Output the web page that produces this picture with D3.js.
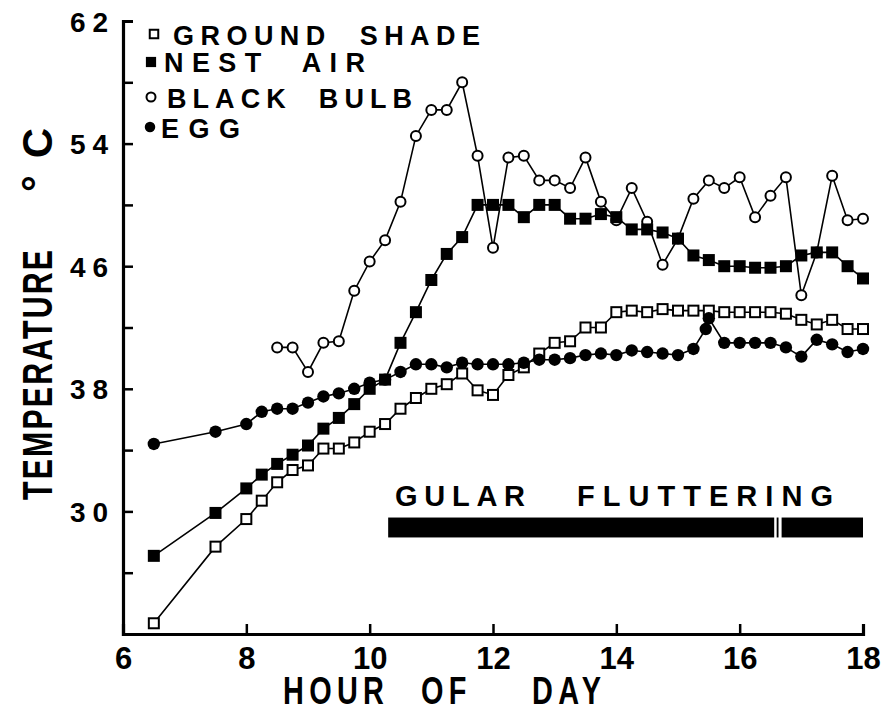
<!DOCTYPE html>
<html>
<head>
<meta charset="utf-8">
<script src="https://cdn.jsdelivr.net/npm/d3@7"></script>
<style>
  body { margin: 0; background: #fff; }
  svg { display: block; }
</style>
</head>
<body>
<div id="chart"></div>
<script>
// hours of the readings
const hoursMain = [6.5, 7.5, 8, 8.25, 8.5, 8.75, 9, 9.25, 9.5, 9.75, 10, 10.25, 10.5, 10.75,
  11, 11.25, 11.5, 11.75, 12, 12.25, 12.5, 12.75, 13, 13.25, 13.5, 13.75, 14, 14.25, 14.5,
  14.75, 15, 15.25, 15.5, 15.75, 16, 16.25, 16.5, 16.75, 17, 17.25, 17.5, 17.75, 18];
const hoursBulb = [8.5, 8.75, 9, 9.25, 9.5, 9.75, 10, 10.25, 10.5, 10.75, 11, 11.25, 11.5,
  11.75, 12, 12.25, 12.5, 12.75, 13, 13.25, 13.5, 13.75, 14, 14.25, 14.5, 14.75, 15, 15.25,
  15.5, 15.75, 16, 16.25, 16.5, 16.75, 17, 17.25, 17.5, 17.75, 18];
const hoursEgg = [6.5, 7.5, 8, 8.25, 8.5, 8.75, 9, 9.25, 9.5, 9.75, 10, 10.25, 10.5, 10.75,
  11, 11.25, 11.5, 11.75, 12, 12.25, 12.5, 12.75, 13, 13.25, 13.5, 13.75, 14, 14.25, 14.5,
  14.75, 15, 15.25, 15.45, 15.5, 15.75, 16, 16.25, 16.5, 16.75, 17, 17.25, 17.5, 17.75, 18];

// temperatures (°C)
const groundShade = [22.7, 27.7, 29.5, 30.7, 31.9, 32.7, 33.0, 34.1, 34.1, 34.5, 35.2, 35.7,
  36.7, 37.4, 38.0, 38.3, 39.0, 37.9, 37.6, 38.9, 39.4, 40.3, 41.0, 41.1, 42.0, 42.0, 43.0,
  43.1, 43.0, 43.2, 43.1, 43.1, 43.1, 43.0, 43.0, 43.0, 43.0, 42.9, 42.5, 42.2, 42.5, 41.9, 41.9];
const nestAir = [27.1, 29.9, 31.5, 32.4, 33.1, 33.7, 34.3, 35.4, 36.1, 37.0, 38.0, 38.6,
  41.0, 43.0, 45.1, 46.8, 47.9, 50.0, 50.0, 50.0, 49.2, 50.0, 50.0, 49.1, 49.1, 49.4, 49.2,
  48.4, 48.4, 48.2, 47.8, 46.7, 46.4, 46.0, 46.0, 45.9, 45.9, 46.0, 46.7, 46.9, 46.9, 46.0, 45.2];
const blackBulb = [40.7, 40.7, 39.1, 41.0, 41.1, 44.4, 46.3, 47.7, 50.2, 54.5, 56.2, 56.2,
  58.0, 53.2, 47.2, 53.1, 53.2, 51.6, 51.6, 51.1, 53.1, 50.2, 49.0, 51.1, 48.9, 46.1, 47.8,
  50.4, 51.6, 51.1, 51.8, 49.2, 50.6, 51.8, 44.1, 46.9, 51.9, 49.0, 49.1];
const egg = [34.4, 35.2, 35.7, 36.5, 36.7, 36.7, 37.1, 37.5, 37.7, 38.0, 38.4, 38.6,
  39.1, 39.6, 39.6, 39.4, 39.7, 39.6, 39.6, 39.6, 39.7, 39.9, 39.9, 40.0, 40.2, 40.3, 40.2,
  40.5, 40.4, 40.3, 40.2, 40.6, 41.9, 42.6, 41.0, 41.0, 41.0, 41.0, 40.7, 40.1, 41.2, 40.9, 40.4, 40.6];

// gular fluttering periods (hours)
const gularSegments = [[10.3, 16.56], [16.6, 16.63], [16.68, 18]];

// axes
const xTicks = [6, 8, 10, 12, 14, 16, 18];
const yTicks = [26, 30, 34, 38, 42, 46, 50, 54, 58, 62];
const yLabels = [30, 38, 46, 54, 62];

const legendNames = ["GROUND\u00a0\u00a0SHADE", "NEST\u00a0\u00a0AIR", "BLACK\u00a0\u00a0BULB", "EGG"];
const xTitleWords = ["HOUR", "OF", "DAY"];

const FONT = "'Liberation Sans', Arial, Helvetica, sans-serif";

const svg = d3.select("#chart").append("svg")
    .attr("width", 881)
    .attr("height", 710)
    .style("font-family", FONT);

const x = d3.scaleLinear().domain([6, 18]).range([123, 863]);
const y = d3.scaleLinear().domain([22, 62]).range([634, 21]);

// y 軸
const yAxis = svg.append("g")
    .attr("transform", "translate(123,0)")
    .call(d3.axisLeft(y).tickValues(yTicks)
        .tickSizeInner(-10).tickSizeOuter(-10).tickPadding(15)
        .tickFormat(d => yLabels.includes(d) ? d : ""));
yAxis.select(".domain").attr("stroke-width", 3.2);
yAxis.selectAll(".tick line").attr("stroke-width", 2.5);
yAxis.selectAll(".tick text")
    .attr("font-family", FONT).attr("font-size", 28).attr("font-weight", "bold")
    .attr("fill", "#000")
    .attr("dy", "0.36em")
    .each(function(d) {
        if (yLabels.includes(d)) d3.select(this).attr("textLength", 38).attr("lengthAdjust", "spacing");
    });

// x 軸
const xAxis = svg.append("g")
    .attr("transform", "translate(0,634)")
    .call(d3.axisBottom(x).tickValues(xTicks)
        .tickSizeInner(-10).tickSizeOuter(-10).tickPadding(13));
xAxis.select(".domain").attr("stroke-width", 3.2);
xAxis.selectAll(".tick text")
    .attr("font-family", FONT).attr("font-size", 31).attr("font-weight", "bold")
    .attr("fill", "#000");
xAxis.selectAll(".tick line").attr("stroke-width", 2.5);

// x 軸標題 (每個字分開放, 同樣的窄字)
const xTitleStarts = [283, 421, 532];
xTitleWords.forEach((w, i) => {
    svg.append("text")
        .attr("transform", `translate(${xTitleStarts[i]},704) scale(0.76,1)`)
        .attr("font-size", 38).attr("font-weight", "bold")
        .attr("letter-spacing", 7)
        .text(w);
});

// y 軸標題
svg.append("text")
    .attr("transform", "translate(52,500) rotate(-90) scale(0.72,1)")
    .attr("font-size", 42).attr("font-weight", "bold")
    .attr("textLength", 250 / 0.72).attr("lengthAdjust", "spacing")
    .text("TEMPERATURE");

svg.append("text")
    .attr("transform", "translate(52,192) rotate(-90)")
    .attr("font-size", 42).attr("font-weight", "bold")
    .attr("textLength", 64).attr("lengthAdjust", "spacing")
    .text("°\u00a0C");

// 資料線
const series = [
    {hours: hoursMain, values: groundShade, kind: "openSquare"},
    {hours: hoursBulb, values: blackBulb, kind: "openCircle"},
    {hours: hoursMain, values: nestAir, kind: "filledSquare"},
    {hours: hoursEgg, values: egg, kind: "filledCircle"}
];

const line = d3.line().x(d => x(d[0])).y(d => y(d[1]));

series.forEach(s => {
    s.points = s.hours.map((h, i) => [h, s.values[i]]);
    svg.append("path")
        .datum(s.points)
        .attr("d", line)
        .attr("fill", "none")
        .attr("stroke", "#000")
        .attr("stroke-width", 1.6);
});

function drawMarker(g, cx, cy, kind, scale = 1) {
    if (kind === "openSquare") {
        const s = 10 * scale;
        g.append("rect").attr("x", cx - s / 2).attr("y", cy - s / 2)
            .attr("width", s).attr("height", s)
            .attr("fill", "#fff").attr("stroke", "#000").attr("stroke-width", 2);
    } else if (kind === "filledSquare") {
        const s = 12 * scale;
        g.append("rect").attr("x", cx - s / 2).attr("y", cy - s / 2)
            .attr("width", s).attr("height", s).attr("fill", "#000");
    } else if (kind === "openCircle") {
        g.append("circle").attr("cx", cx).attr("cy", cy).attr("r", 5 * scale)
            .attr("fill", "#fff").attr("stroke", "#000").attr("stroke-width", 2);
    } else {
        g.append("circle").attr("cx", cx).attr("cy", cy).attr("r", 6.2 * scale)
            .attr("fill", "#000");
    }
}

series.forEach(s => {
    const g = svg.append("g");
    s.points.forEach(p => drawMarker(g, x(p[0]), y(p[1]), s.kind));
});

// 圖例
const legendRows = [
    {mx: 154, my: 34, tx: 173, ty: 45, w: 307, kind: "openSquare", sc: 0.85},
    {mx: 151, my: 62, tx: 164, ty: 72, w: 201, kind: "filledSquare", sc: 0.85},
    {mx: 151, my: 97, tx: 167, ty: 108, w: 245, kind: "openCircle", sc: 0.9},
    {mx: 150, my: 127, tx: 161, ty: 138, w: 79, kind: "filledCircle", sc: 0.85}
];
const legend = svg.append("g");
legendRows.forEach((r, i) => {
    drawMarker(legend, r.mx, r.my, r.kind, r.sc);
    legend.append("text")
        .attr("x", r.tx).attr("y", r.ty)
        .attr("font-size", 27).attr("font-weight", "bold")
        .attr("textLength", r.w).attr("lengthAdjust", "spacing")
        .text(legendNames[i]);
});

// gular fluttering
svg.append("g").selectAll("rect")
    .data(gularSegments)
    .enter().append("rect")
    .attr("x", d => x(d[0]))
    .attr("width", d => x(d[1]) - x(d[0]))
    .attr("y", y(29.6))
    .attr("height", y(28.3) - y(29.6))
    .attr("fill", "#000");

svg.append("text")
    .attr("x", 395).attr("y", 506)
    .attr("font-size", 29).attr("font-weight", "bold")
    .attr("textLength", 130).attr("lengthAdjust", "spacing")
    .text("GULAR");
svg.append("text")
    .attr("x", 577).attr("y", 506)
    .attr("font-size", 29).attr("font-weight", "bold")
    .attr("textLength", 256).attr("lengthAdjust", "spacing")
    .text("FLUTTERING");
</script>
</body>
</html>
